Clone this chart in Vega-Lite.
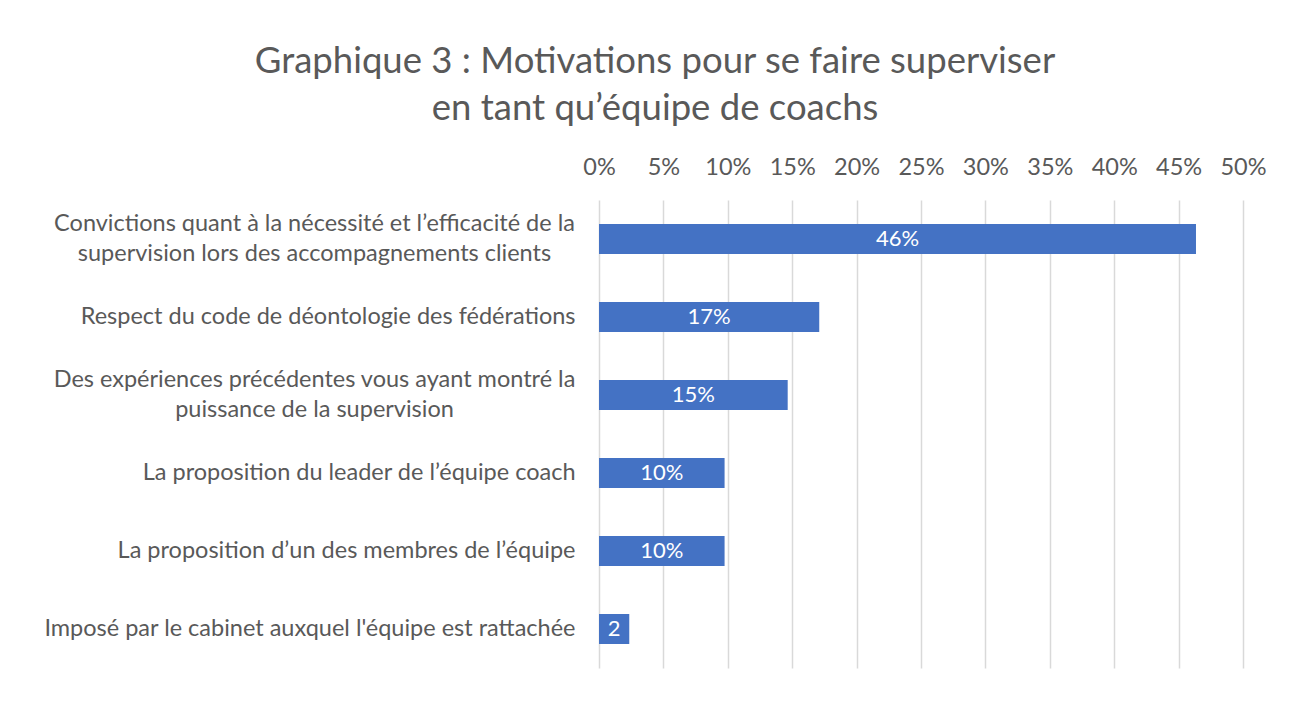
{
  "$schema": "https://vega.github.io/schema/vega-lite/v6.json",
  "width": 644,
  "height": 468,
  "autosize": {"type": "none"},
  "padding": {"left": 599, "top": 200, "right": 64, "bottom": 49},
  "background": "white",
  "config": {"view": {"stroke": null}},
  "title": {
    "text": ["Graphique 3 : Motivations pour se faire superviser", "en tant qu’équipe de coachs"],
    "font": "Lato",
    "fontSize": 36.5,
    "fontWeight": "normal",
    "color": "#595959",
    "anchor": "middle",
    "frame": "group",
    "dx": -266,
    "lineHeight": 47,
    "offset": 28
  },
  "data": {
    "values": [
      {"motivation": "Convictions quant à la nécessité et l’efficacité de la\nsupervision lors des accompagnements clients", "pct": 0.4635, "label": "46%"},
      {"motivation": "Respect du code de déontologie des fédérations", "pct": 0.171, "label": "17%"},
      {"motivation": "Des expériences précédentes vous ayant montré la\npuissance de la supervision", "pct": 0.1465, "label": "15%"},
      {"motivation": "La proposition du leader de l’équipe coach", "pct": 0.0975, "label": "10%"},
      {"motivation": "La proposition d’un des membres de l’équipe", "pct": 0.0975, "label": "10%"},
      {"motivation": "Imposé par le cabinet auxquel l'équipe est rattachée", "pct": 0.0235, "label": "2"}
    ]
  },
  "encoding": {
    "y": {
      "field": "motivation",
      "type": "nominal",
      "sort": null,
      "scale": {"paddingInner": 0.615, "paddingOuter": 0.3075},
      "axis": {
        "title": null,
        "ticks": false,
        "domain": false,
        "labelFont": "Lato",
        "labelFontSize": 23.5,
        "labelColor": "#595959",
        "labelLimit": 0,
        "labelLineHeight": 30,
        "labelAlign": {"condition": {"test": "indexof(datum.label, '\\n') >= 0", "value": "center"}, "value": "right"},
        "labelPadding": {"condition": {"test": "indexof(datum.label, '\\n') >= 0", "value": 285}, "value": 24},
        "labelOffset": {"condition": {"test": "indexof(datum.label, '\\n') >= 0", "value": -15}, "value": 0},
        "labelExpr": "split(datum.label, '\\n')"
      }
    }
  },
  "layer": [
    {
      "mark": {"type": "bar", "color": "#4472C4"},
      "encoding": {
        "x": {
          "field": "pct",
          "type": "quantitative",
          "scale": {"domain": [0, 0.5], "nice": false},
          "axis": {
            "orient": "top",
            "title": null,
            "format": ".0%",
            "values": [0, 0.05, 0.1, 0.15, 0.2, 0.25, 0.3, 0.35, 0.4, 0.45, 0.5],
            "grid": true,
            "gridColor": "#D9D9D9",
            "gridWidth": 1.5,
            "ticks": false,
            "domain": false,
            "labelOverlap": false,
            "labelFlush": false,
            "labelFont": "Lato",
            "labelFontSize": 23.5,
            "labelColor": "#595959",
            "labelPadding": 21
          }
        }
      }
    },
    {
      "mark": {"type": "text", "color": "white", "font": "Lato", "fontSize": 22, "align": "center", "baseline": "middle"},
      "encoding": {
        "x": {"field": "pct", "type": "quantitative", "scale": {"domain": [0, 1], "nice": false}, "axis": null},
        "text": {"field": "label"}
      }
    }
  ],
  "resolve": {"scale": {"x": "independent"}, "axis": {"x": "independent"}}
}
